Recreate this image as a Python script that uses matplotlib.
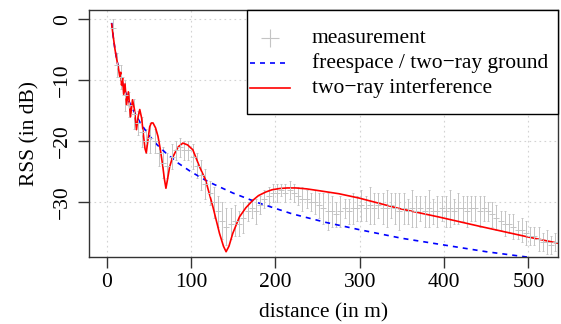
import numpy as np
import matplotlib.pyplot as plt
from matplotlib.patches import Rectangle

plt.rcParams['font.family'] = ['Liberation Serif', 'DejaVu Serif']
plt.rcParams['font.size'] = 15.5

# measurement: distance (m), mean RSS (dB), error half-width (dB)
meas_d = [7, 12, 17, 22, 27, 32, 37, 42, 47, 52, 57, 62, 67, 72, 77, 82, 87, 92, 97,
          102, 107, 112, 117, 122, 127, 132, 137, 142, 147, 152, 157, 162, 167, 172,
          177, 182, 187, 192, 197, 202, 207, 212, 217, 222, 227, 232, 237, 242, 247,
          252, 257, 262, 267, 272, 277, 282, 287, 292, 297, 302, 307, 312, 317, 322,
          327, 332, 337, 342, 347, 352, 357, 362, 367, 372, 377, 382, 387, 392, 397,
          402, 407, 412, 417, 422, 427, 432, 437, 442, 447, 452, 457, 462, 467, 472,
          477, 482, 487, 492, 497, 502, 507, 512, 517, 522, 527, 532]
meas_rss = [-1.5, -7.5, -9.5, -12.5, -14.0, -15.5, -17.0, -18.5, -20.0, -19.5, -20.0,
            -22.0, -23.5, -24.0, -22.5, -21.5, -21.0, -21.5, -21.5, -22.5, -24.0, -25.5,
            -27.0, -28.5, -30.0, -31.5, -33.0, -34.0, -33.5, -33.0, -33.5, -32.5, -31.5,
            -31.0, -31.5, -30.5, -29.5, -29.0, -28.5, -28.5, -28.0, -28.5, -28.0, -28.5,
            -29.0, -29.5, -29.5, -30.0, -30.0, -30.5, -31.0, -31.5, -31.5, -32.0, -31.5,
            -31.0, -31.5, -31.0, -31.0, -30.5, -31.0, -30.5, -31.0, -30.5, -31.0, -31.0,
            -30.5, -31.0, -31.5, -31.0, -31.5, -31.0, -31.5, -31.0, -31.5, -31.0, -31.5,
            -31.5, -31.0, -31.5, -31.0, -31.5, -31.0, -31.0, -31.5, -31.0, -31.0, -31.5,
            -31.0, -31.5, -32.0, -32.5, -33.0, -33.5, -33.5, -34.0, -34.5, -34.5, -35.0,
            -35.5, -35.5, -36.0, -36.5, -36.5, -37.0, -36.5]
meas_err = [1.5, 2.0, 2.0, 2.5, 2.0, 2.5, 2.0, 2.5, 2.0, 2.5, 2.0, 2.0, 2.5, 2.0, 2.0,
            1.5, 1.5, 1.5, 1.5, 2.0, 2.0, 2.5, 2.5, 2.0, 2.5, 2.5, 3.0, 3.0, 2.5, 2.5,
            2.0, 2.5, 1.5, 1.5, 2.0, 1.5, 1.5, 1.5, 1.5, 1.5, 1.0, 1.5, 1.5, 1.5, 1.5,
            2.0, 1.5, 1.5, 2.0, 2.0, 2.5, 3.0, 2.5, 2.0, 2.5, 1.5, 2.0, 2.5, 2.0, 2.5,
            2.0, 3.0, 2.5, 2.0, 2.5, 3.0, 2.0, 2.5, 3.0, 2.5, 2.0, 3.0, 2.5, 2.0, 2.5,
            3.0, 2.0, 2.5, 2.0, 2.5, 3.0, 2.0, 2.5, 2.0, 2.5, 2.0, 2.0, 2.5, 2.0, 1.5,
            2.0, 2.0, 1.5, 2.0, 1.5, 2.0, 1.5, 2.0, 2.0, 1.5, 1.5, 2.0, 1.5, 2.0, 1.5, 1.5]

# freespace / two-ray ground model
free_d = [6, 8, 10, 12, 15, 20, 25, 30, 40, 50, 60, 70, 85, 100, 120, 150, 180, 220,
          260, 300, 350, 400, 450, 500]
free_rss = [-0.6, -3.1, -5.0, -6.6, -8.5, -11.0, -13.0, -14.5, -17.0, -19.0, -20.6,
            -21.9, -23.6, -25.0, -26.6, -28.5, -30.1, -31.9, -33.3, -34.5, -35.9,
            -37.0, -38.1, -39.0]

# two-ray interference model
tri_d = [6, 8, 10, 12, 14, 15.7, 16.7, 17.7, 18.9, 20.2, 21.8, 23.6, 25.8, 28.3, 30.7,
         33.0, 35.4, 37.3, 39.3, 41.5, 43.5, 45.5, 47.0, 49.0, 51.1, 53.0, 55.0, 58.0,
         60.9, 63.5, 66.1, 68.5, 70.3, 72.0, 74.7, 77.5, 80.6, 85.0, 90.4, 96.0, 102.2,
         110.2, 117.2, 125.9, 133.8, 138.5, 141.6, 145.0, 149.5, 157.4, 165.0, 173.1,
         180.0, 188.9, 196.0, 204.6, 214.0, 224.3, 237.0, 251.8, 275.4, 299.0, 346.0,
         393.5, 441.0, 500.0, 535.0]
tri_rss = [-0.8, -3.0, -5.0, -6.6, -8.0, -9.5, -8.7, -10.8, -9.6, -12.3, -10.6, -14.0,
           -11.9, -16.0, -13.2, -14.8, -18.1, -16.0, -14.8, -16.2, -18.8, -21.2, -21.9,
           -19.8, -17.6, -17.0, -17.0, -17.8, -19.2, -21.2, -23.6, -26.2, -27.7, -26.4,
           -24.2, -22.9, -22.0, -20.9, -20.3, -20.6, -21.4, -24.2, -26.3, -30.7, -35.1,
           -37.2, -38.1, -37.2, -35.1, -32.4, -30.9, -29.7, -28.9, -28.3, -27.95, -27.75,
           -27.65, -27.65, -27.8, -28.1, -28.6, -29.3, -31.0, -32.4, -33.9, -35.7, -36.7]

labels = ['measurement', 'freespace / two\u2212ray ground', 'two\u2212ray interference']

fig = plt.figure(figsize=(5.61, 3.24), dpi=100)
ax = fig.add_axes([0.158, 0.208, 0.837, 0.761])

ax.set_xticks([0, 100, 200, 300, 400, 500])
ax.set_yticks([0, -10, -20, -30])
ax.grid(True, color='#d3d3d3', linestyle=(0, (1.5, 3)), linewidth=0.8)
ax.set_axisbelow(True)

gray = '#c4c4c4'
ax.errorbar(meas_d, meas_rss, yerr=meas_err, fmt='+', color=gray, ecolor=gray,
            elinewidth=0.7, markersize=5, markeredgewidth=0.7, capsize=0.8,
            capthick=0.7)
ax.plot(free_d, free_rss, color='blue', linestyle=(0, (3, 3)), linewidth=1.2)
ax.plot(tri_d, tri_rss, color='red', linewidth=1.2)

ax.set_xlim(-21.3, 535.2)
ax.set_ylim(-38.9, 1.5)

for s in ax.spines.values():
    s.set_color('#333333')
    s.set_linewidth(1.0)
ax.tick_params(direction='out', length=8, width=1.0, color='#333333', pad=4)
for lab in ax.get_yticklabels():
    lab.set_rotation(90)
    lab.set_va('center')

ax.set_xlabel('distance (in m)', labelpad=8)
ax.set_ylabel('RSS (in dB)', labelpad=10)

# legend drawn by hand, R style box in the top right corner
tr = ax.transAxes
ax.add_patch(Rectangle((0.337, 0.578), 0.663, 0.422, transform=tr, facecolor='white',
                       edgecolor='black', linewidth=1.0, zorder=5, clip_on=False))
rows = [0.8865, 0.7852, 0.6839]
ax.plot([0.386], [rows[0]], transform=tr, marker='+', color=gray, markersize=13,
        markeredgewidth=0.8, linestyle='none', zorder=6)
ax.plot([0.343, 0.428], [rows[1]] * 2, transform=tr, color='blue',
        linestyle=(0, (3, 3)), linewidth=1.2, zorder=6)
ax.plot([0.343, 0.428], [rows[2]] * 2, transform=tr, color='red', linewidth=1.2, zorder=6)
for y, t in zip(rows, labels):
    ax.text(0.475, y, t, transform=tr, va='center', ha='left', zorder=6)

fig.savefig('out.png', dpi=100)
